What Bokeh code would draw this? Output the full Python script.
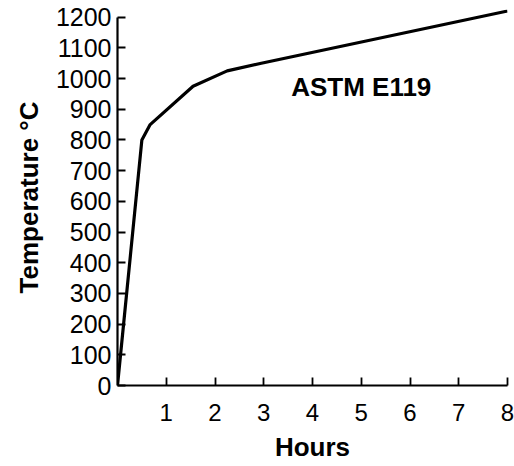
from bokeh.plotting import figure
from bokeh.models import FixedTicker, Range1d, Title
from bokeh.core.properties import value
from bokeh.embed import file_html
from bokeh.resources import INLINE

hours = [0.0, 0.5, 0.67, 1.55, 2.25, 2.95, 8.0]
temperature = [0, 800, 850, 975, 1025, 1050, 1220]
x_ticks = [1, 2, 3, 4, 5, 6, 7, 8]
y_ticks = list(range(0, 1300, 100))
annotation_x = [5.0]
annotation_y = [972]
annotation_text = ["ASTM E119"]
x_title = "Hours"
y_title = "Temperature °C"

FONT = "Liberation Sans"

p = figure(width=514, height=466, output_backend="svg", toolbar_location=None,
           x_range=Range1d(0, 8), y_range=Range1d(0, 1225),
           frame_width=390, frame_height=376,
           min_border_left=117, min_border_right=7, min_border_top=9, min_border_bottom=81)
p.outline_line_color = None
p.grid.visible = False
p.background_fill_color = "white"
p.border_fill_color = "white"

p.line(hours, temperature, line_color="black", line_width=3.2, line_join="round")

p.text(annotation_x, annotation_y, text=annotation_text, text_font=value(FONT),
       text_font_size="26px", text_font_style="bold", text_align="center",
       text_baseline="middle", text_color="black")

for ax in (p.xaxis[0], p.yaxis[0]):
    ax.axis_line_color = "black"
    ax.axis_line_width = 2.2
    ax.major_tick_line_color = "black"
    ax.major_tick_line_width = 1.8
    ax.major_tick_in = 8
    ax.major_tick_out = 0
    ax.minor_tick_line_color = None
    ax.major_label_text_font = FONT
    ax.major_label_text_font_size = "25px"
    ax.major_label_text_color = "black"
    ax.axis_label_text_font = FONT
    ax.axis_label_text_font_size = "26px"
    ax.axis_label_text_font_style = "bold"
    ax.axis_label_text_color = "black"

p.xaxis[0].major_label_text_font_size = "24px"
p.xaxis[0].ticker = FixedTicker(ticks=x_ticks)
p.yaxis[0].ticker = FixedTicker(ticks=y_ticks)
p.xaxis[0].axis_label = x_title
p.yaxis[0].bounds = (0, 1200)
p.xaxis[0].major_label_standoff = 18
p.xaxis[0].axis_label_standoff = 8
p.yaxis[0].major_label_standoff = 6

ytitle = Title(text=y_title, align="center", standoff=18,
               text_font=FONT, text_font_size="26px", text_font_style="bold",
               text_color="black")
p.add_layout(ytitle, "left")

open("out.html", "w").write(file_html(p, INLINE))
